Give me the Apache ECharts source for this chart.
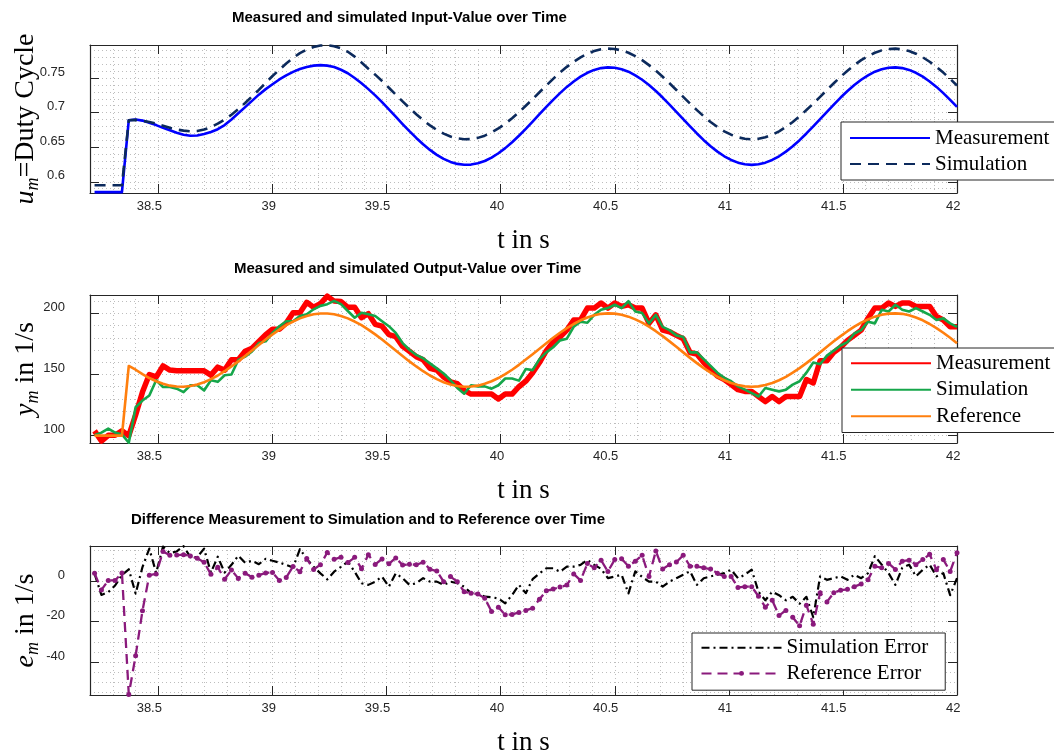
<!DOCTYPE html>
<html>
<head>
<meta charset="utf-8">
<title>Measured and simulated values over time</title>
<script src="https://cdn.jsdelivr.net/npm/echarts@6/dist/echarts.min.js"></script>
<style>
  html, body { margin: 0; padding: 0; background: #ffffff; }
  #chart { width: 1054px; height: 753px; }
</style>
</head>
<body>
<div id="chart"></div>
<script>
// Sample instants in seconds (30 ms sampling)
const time = [
  38.22,38.25,38.28,38.31,38.34,38.37,38.40,38.43,38.46,38.49,
  38.52,38.55,38.58,38.61,38.64,38.67,38.70,38.73,38.76,38.79,
  38.82,38.85,38.88,38.91,38.94,38.97,39.00,39.03,39.06,39.09,
  39.12,39.15,39.18,39.21,39.24,39.27,39.30,39.33,39.36,39.39,
  39.42,39.45,39.48,39.51,39.54,39.57,39.60,39.63,39.66,39.69,
  39.72,39.75,39.78,39.81,39.84,39.87,39.90,39.93,39.96,39.99,
  40.02,40.05,40.08,40.11,40.14,40.17,40.20,40.23,40.26,40.29,
  40.32,40.35,40.38,40.41,40.44,40.47,40.50,40.53,40.56,40.59,
  40.62,40.65,40.68,40.71,40.74,40.77,40.80,40.83,40.86,40.89,
  40.92,40.95,40.98,41.01,41.04,41.07,41.10,41.13,41.16,41.19,
  41.22,41.25,41.28,41.31,41.34,41.37,41.40,41.43,41.46,41.49,
  41.52,41.55,41.58,41.61,41.64,41.67,41.70,41.73,41.76,41.79,
  41.82,41.85,41.88,41.91,41.94,41.97,42.00
];

// Input value u_m (duty cycle)
const dutyMeasured = [
  0.585,0.585,0.585,0.585,0.585,0.689,0.690,0.6885,0.6855,0.682,
  0.678,0.6745,0.671,0.668,0.6665,0.667,0.669,0.672,0.676,0.682,
  0.690,0.699,0.708,0.717,0.726,0.734,0.741,0.748,0.754,0.759,
  0.763,0.766,0.768,0.7687,0.768,0.766,0.762,0.757,0.750,0.7425,
  0.734,0.7250,0.7151,0.7047,0.6941,0.6835,0.6732,0.6634,0.6543,0.6461,
  0.6390,0.6332,0.6288,0.6259,0.6246,0.6249,0.6267,0.6301,0.6350,0.6413,
  0.6487,0.6572,0.6666,0.6766,0.6870,0.6977,0.7082,0.7185,0.7282,0.7372,
  0.7451,0.7520,0.7576,0.7618,0.7644,0.7655,0.7649,0.7628,0.7592,0.7540,
  0.7476,0.7399,0.7312,0.7218,0.7117,0.7012,0.6906,0.6801,0.6699,0.6602,
  0.6514,0.6436,0.6369,0.6316,0.6277,0.6253,0.6245,0.6253,0.6277,0.6316,
  0.6369,0.6436,0.6514,0.6602,0.6699,0.6801,0.6906,0.7012,0.7117,0.7218,
  0.7312,0.7399,0.7476,0.7540,0.7592,0.7628,0.7649,0.7655,0.7644,0.7618,
  0.7576,0.7520,0.7451,0.7372,0.7282,0.7185,0.7082
];
const dutySimulated = [
  0.595,0.595,0.595,0.595,0.595,0.689,0.6895,0.688,0.6865,0.684,
  0.681,0.678,0.6755,0.674,0.673,0.6735,0.6755,0.679,0.684,0.690,
  0.697,0.705,0.714,0.7235,0.733,0.743,0.753,0.762,0.771,0.779,
  0.786,0.791,0.795,0.797,0.7975,0.796,0.793,0.788,0.781,0.7725,
  0.7635,0.7549,0.7457,0.7360,0.7261,0.7163,0.7068,0.6977,0.6891,0.6816,
  0.6750,0.6696,0.6655,0.6628,0.6616,0.6618,0.6635,0.6667,0.6713,0.6771,
  0.6840,0.6919,0.7006,0.7099,0.7196,0.7295,0.7392,0.7488,0.7579,0.7662,
  0.7736,0.7800,0.7852,0.7890,0.7915,0.7925,0.7920,0.7900,0.7866,0.7818,
  0.7759,0.7687,0.7607,0.7519,0.7425,0.7328,0.7229,0.7131,0.7037,0.6947,
  0.6865,0.6793,0.6730,0.6681,0.6644,0.6622,0.6615,0.6622,0.6644,0.6681,
  0.6730,0.6793,0.6865,0.6947,0.7037,0.7131,0.7229,0.7328,0.7425,0.7519,
  0.7607,0.7687,0.7759,0.7818,0.7866,0.7900,0.7920,0.7925,0.7915,0.7890,
  0.7852,0.7800,0.7736,0.7662,0.7579,0.7488,0.7392
];

// Output value y_m in 1/s
const speedMeasured = [
  103.9,95.6,100.3,100.3,104,100,117,135.6,150,148,
  157,153.6,153,153,153,153,153,149.5,156,153.6,
  162,162,169,171.5,177,182.6,187,187,192,200.5,
  200.5,209,205,208,214,210,209.7,205,205,196.4,
  199.7,191,189.5,182.6,181,173,169,164.6,162,155,
  153.6,148,144,142.5,137,134,134,134,134,130,
  134,134,140,144.5,151.5,159.8,169.5,176.5,180.7,186.3,
  194.6,194.6,204.3,204.3,208.5,204.3,208.5,205.7,207,204.3,
  204.3,191.8,198.8,186.3,184.9,182,179.3,168,166.8,159.8,
  154.2,148.7,145.9,141.7,137.6,136.2,136.2,132,127.8,132,
  127.8,132,132,132,145.9,143.1,161.2,161.2,168.1,172.3,
  177.9,182,186.3,196,204.3,204.3,208.5,205.7,208.5,208.5,
  205.7,205.7,205.7,197.4,194.6,189,189
];
const speedSimulated = [
  100.3,102.5,105.8,102.5,101,94.2,123.2,128.7,132.9,145.3,
  139.8,139.8,138.4,135.6,141.2,141.2,137,145.3,144,149.4,
  150,161.9,164.6,168.8,175.7,177.1,184,189.5,193.6,193.6,
  197.8,199.2,203.3,206.1,207.5,210.2,207.5,201.9,196.4,200.5,
  199.2,197.8,193.6,189.5,184,175.7,170.2,166,163.3,159.1,
  155,150.8,145.3,139,134.3,141.2,140.3,140.3,138.4,141.2,
  146.7,146.7,145,154.5,153.6,162.6,168.1,172.3,177.9,179.3,
  189,193.2,192.3,198.8,202.9,204.3,207,204.3,209.9,201.5,
  200.2,191.8,198.8,189,186.3,182,180.7,168.1,168.1,162.6,
  157,151.5,147.3,144.5,140.3,137.6,134.8,132,139,137.6,
  136.2,137.6,141.7,144.5,151.5,159.8,158.4,165.4,169.5,173.7,
  176.5,183.5,186.3,193.2,191.8,202.9,201.5,207,202.9,201.5,
  204.3,201.5,198.8,194.6,195.9,191.8,189
];
const speedReference = [
  100,100,100,100,100,157,153.9,150.3,147.1,144.5,
  142.4,140.9,140.2,140.0,140.6,141.8,143.7,146.2,149.2,152.7,
  156.6,160.7,165.1,169.6,174.1,178.6,182.8,186.7,190.3,193.3,
  195.9,197.9,199.3,199.9,199.9,199.3,197.9,195.9,193.3,190.3,
  186.7,182.8,178.6,174.1,169.6,165.1,160.7,156.6,152.7,149.2,
  146.2,143.7,141.8,140.6,140.0,140.2,140.9,142.4,144.5,147.1,
  150.3,153.9,157.9,162.2,166.6,171.1,175.6,180.0,184.1,187.9,
  191.3,194.3,196.6,198.4,199.6,200.0,199.8,198.9,197.3,195.1,
  192.4,189.1,185.4,181.4,177.1,172.6,168.1,163.6,159.3,155.2,
  151.5,148.1,145.3,143.0,141.4,140.3,140.0,140.3,141.4,143.0,
  145.3,148.1,151.5,155.2,159.3,163.6,168.1,172.6,177.1,181.4,
  185.4,189.1,192.4,195.1,197.3,198.9,199.8,200.0,199.6,198.4,
  196.6,194.3,191.3,187.9,184.1,180.0,175.6
];

// Differences e_m in 1/s
const errorSimulation = [
  3.6,-6.9,-5.5,-2.2,3,5.8,-6.2,6.9,16,4,
  17,13.8,14.6,17.2,11.8,11.8,16,4.2,12,4.2,
  8,12.5,9,10,8.3,11,10,9.1,8,6.7,
  15.8,10.9,7,3.8,0.8,4.6,7,9.6,4.6,-1.1,
  -1.9,-0.3,2.2,-2.8,3.8,1.4,-1.9,-1.1,1.4,-0.3,
  -0.3,-1.9,-0.3,-1.1,-2.8,-6,-6,-7.7,-8,-8.6,
  -11,-6.9,-1.9,-6,0.9,3.8,6.3,6.3,4.6,7.1,
  7.1,8,10.4,8,6,1.4,2.2,3.1,-6.1,4.8,
  2,-0.3,-0.3,-2.8,-0.3,1.4,3.1,4.8,-1.9,1.4,
  2.3,3.1,3.9,5.6,1.4,3.1,5.6,-5.3,-9.5,-5.3,
  -7,-9.5,-7.8,-11.2,-7.8,-17.9,2.3,0.6,1.4,2.3,
  0.6,3.1,1.4,3.9,12.3,8.1,3.9,-1.9,6.5,8.1,
  2.3,5.6,8.1,2.3,3.9,-7,1.4
];
const errorReference = [
  3.9,-4.4,0.3,0.3,4,-56,-36.9,-14.7,2.9,3.5,
  14.6,12.7,12.8,13,12.4,11.2,9.3,3.3,6.8,0.9,
  5.4,1.3,3.9,1.9,2.9,4,4.2,0.3,1.7,7.2,
  4.6,11.1,5.7,8.1,14.1,10.7,11.8,9.1,11.7,6.1,
  13,8.2,10.9,8.5,11.4,7.9,8.3,8,9.3,5.8,
  5,-0.3,2.2,-0.3,-5.3,-6,-6.4,-8.5,-15,-13,
  -16.7,-16.5,-15.5,-14.5,-13.4,-9,-4.8,-4,-3,-2,
  3.5,0.3,8.6,6.5,10.3,4.7,10.6,11,7.3,9.8,
  12.7,2.2,14.8,5.9,8.1,9.4,12.7,7.3,7.3,6.5,
  5.9,3.9,2.2,2.2,-3.2,-2.8,-2.8,-7.5,-12.9,-9.5,
  -17,-14.5,-17.9,-22.1,-12,-21.3,-5.8,-10.3,-5.8,-4.5,
  -4.1,-2.8,-1.5,0.6,7.3,6.5,8.7,5.7,9.8,10.3,
  8.1,10.6,13.2,5.6,10.6,4.7,14
];

// Axis limits of the three panels
const timeRange = [38.2, 42];
const dutyRange = [0.5838, 0.7978];
const speedRange = [94, 215];
const errorRange = [-56.3, 17.3];

const INK = '#262626';
const SANS = 'Liberation Sans';
const SERIF = 'Liberation Serif';
const dotted = { color: '#bdbdbd', width: 1, type: [1, 3] };

function pairs(values) {
  return time.map((t, i) => [t, values[i]]);
}

function frameLine() {
  return { show: true, onZero: false, lineStyle: { color: INK, width: 1.2 } };
}
function frameTicks() {
  return { show: true, inside: true, length: 9, lineStyle: { color: INK, width: 1 } };
}

// Bottom time axis with labels, ticks and the dotted grid
function timeAxis(g) {
  return {
    type: 'value', gridIndex: g, position: 'bottom',
    min: timeRange[0], max: timeRange[1], splitNumber: 7,
    axisLine: frameLine(), axisTick: frameTicks(),
    axisLabel: {
      show: true, showMinLabel: false, showMaxLabel: true,
      color: INK, fontFamily: SANS, fontSize: 13, margin: 7,
      align: 'right', padding: [0, -3.5, 0, 0]
    },
    splitLine: { show: true, lineStyle: dotted },
    minorTick: { show: false, splitNumber: 5 },
    minorSplitLine: { show: true, lineStyle: dotted },
    name: 't in s', nameLocation: 'middle', nameGap: 33, nameMoveOverlap: false,
    nameTextStyle: { fontFamily: SERIF, fontSize: 27, color: '#000', lineHeight: 30 }
  };
}
// Mirror axis on top of the box: only line and inward ticks
function timeMirror(g) {
  return {
    type: 'value', gridIndex: g, position: 'top',
    min: timeRange[0], max: timeRange[1], splitNumber: 7,
    axisLine: frameLine(), axisTick: frameTicks(),
    axisLabel: { show: false }, splitLine: { show: false },
    minorTick: { show: false }, minorSplitLine: { show: false }
  };
}
function valueAxis(g, range, split, minorSplit, name, gap) {
  return {
    type: 'value', gridIndex: g, position: 'left',
    min: range[0], max: range[1], splitNumber: split,
    axisLine: frameLine(), axisTick: frameTicks(),
    axisLabel: {
      show: true, showMinLabel: false, showMaxLabel: false,
      color: INK, fontFamily: SANS, fontSize: 13, margin: 25,
      verticalAlign: 'bottom', lineHeight: 12
    },
    splitLine: { show: true, lineStyle: dotted },
    minorTick: { show: false, splitNumber: minorSplit },
    minorSplitLine: { show: true, lineStyle: dotted },
    name: name, nameLocation: 'middle', nameRotate: 90, nameGap: gap, nameMoveOverlap: false,
    nameTextStyle: {
      color: '#000',
      rich: {
        v: { fontFamily: SERIF, fontStyle: 'italic', fontSize: 28, lineHeight: 32, color: '#000' },
        s: { fontFamily: SERIF, fontStyle: 'italic', fontSize: 18, lineHeight: 16, verticalAlign: 'bottom', color: '#000' },
        r: { fontFamily: SERIF, fontSize: 28, lineHeight: 32, color: '#000' }
      }
    }
  };
}
function valueMirror(g, range, split) {
  return {
    type: 'value', gridIndex: g, position: 'right',
    min: range[0], max: range[1], splitNumber: split,
    axisLine: frameLine(), axisTick: frameTicks(),
    axisLabel: { show: false }, splitLine: { show: false },
    minorTick: { show: false }, minorSplitLine: { show: false }
  };
}

function lineSeries(name, axis, values, color, width, dash, extra) {
  return Object.assign({
    name: name, type: 'line', xAxisIndex: axis, yAxisIndex: axis,
    data: pairs(values), symbol: 'none', silent: true,
    lineStyle: { color: color, width: width, type: dash || 'solid', join: 'round' },
    itemStyle: { color: color, borderWidth: 0 },
    emphasis: { disabled: true }
  }, extra || {});
}

const titleStyle = { fontFamily: SANS, fontWeight: 'bold', fontSize: 15, color: '#000' };
const legendText = { fontFamily: SERIF, fontSize: 21, color: '#000', lineHeight: 26 };
const hiddenMark = { opacity: 0 };

function legendBox(left, top, padding, itemHeight, lineHeight, data) {
  return {
    orient: 'vertical', left: left, top: top, padding: padding,
    itemWidth: 80, itemHeight: itemHeight, itemGap: 0,
    backgroundColor: '#ffffff', borderColor: INK, borderWidth: 1, borderRadius: 0,
    selectedMode: false,
    textStyle: Object.assign({}, legendText, { lineHeight: lineHeight }),
    formatter: n => n.replace(' (y)', ''),
    data: data
  };
}

const option = {
  animation: false,
  backgroundColor: '#ffffff',
  title: [
    { text: 'Measured and simulated Input-Value over Time', left: 232, top: 10, padding: 0, textStyle: titleStyle },
    { text: 'Measured and simulated Output-Value over Time', left: 234, top: 261, padding: 0, textStyle: titleStyle },
    { text: 'Difference Measurement to Simulation and to Reference over Time', left: 131, top: 512, padding: 0, textStyle: titleStyle }
  ],
  grid: [
    { left: 90, right: 97, top: 45, height: 148, containLabel: false, outerBoundsMode: 'none' },
    { left: 90, right: 97, top: 295, height: 148, containLabel: false, outerBoundsMode: 'none' },
    { left: 90, right: 97, top: 546, height: 149, containLabel: false, outerBoundsMode: 'none' }
  ],
  xAxis: [timeAxis(0), timeMirror(0), timeAxis(1), timeMirror(1), timeAxis(2), timeMirror(2)],
  yAxis: [
    valueAxis(0, dutyRange, 5, 5, '{v|u}{s|m}{r|=Duty Cycle}', 48),
    valueMirror(0, dutyRange, 5),
    valueAxis(1, speedRange, 3, 5, '{v|y}{s|m}{r| in 1/s}', 48),
    valueMirror(1, speedRange, 3),
    valueAxis(2, errorRange, 4, 4, '{v|e}{s|m}{r| in 1/s}', 48),
    valueMirror(2, errorRange, 4)
  ],
  legend: [
    legendBox(841, 122, [3, 10, 3, 8], 26, 26, [
      { name: 'Measurement', itemStyle: hiddenMark },
      { name: 'Simulation', itemStyle: hiddenMark }
    ]),
    legendBox(842, 348, [2, 10, 3, 8], 26, 26.5, [
      { name: 'Measurement (y)', itemStyle: hiddenMark },
      { name: 'Simulation (y)', itemStyle: hiddenMark },
      { name: 'Reference', itemStyle: hiddenMark }
    ]),
    legendBox(692, 633, [2, 17, 4, 8.5], 6, 25.6, [
      { name: 'Simulation Error', itemStyle: hiddenMark },
      { name: 'Reference Error' }
    ])
  ],
  series: [
    lineSeries('Measurement', 0, dutyMeasured, '#0000ff', 2.6),
    lineSeries('Simulation', 0, dutySimulated, '#0c2a5c', 2.6, [11, 7]),
    lineSeries('Measurement (y)', 2, speedMeasured, '#ff0000', 5.5),
    lineSeries('Simulation (y)', 2, speedSimulated, '#15a64a', 2.6),
    lineSeries('Reference', 2, speedReference, '#ff7f0e', 2.6),
    lineSeries('Simulation Error', 4, errorSimulation, '#000000', 2.2, [8, 4, 2, 4]),
    lineSeries('Reference Error', 4, errorReference, '#8a1a7c', 2.3, [10, 6], {
      symbol: 'circle', symbolSize: 5, showSymbol: true
    })
  ]
};

const chart = echarts.init(document.getElementById('chart'), null, { renderer: 'canvas' });
chart.setOption(option);
</script>
</body>
</html>
